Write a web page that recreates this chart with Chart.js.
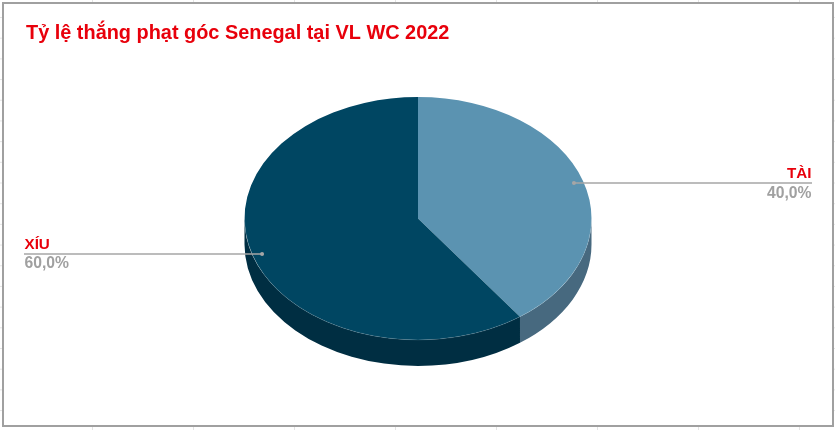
<!DOCTYPE html>
<html><head><meta charset="utf-8">
<style>
html,body{margin:0;padding:0;width:835px;height:430px;overflow:hidden;background-color:#fff;
background-image:linear-gradient(to right,#e4e4e4 1px,transparent 1px),linear-gradient(to bottom,#e4e4e4 1px,transparent 1px);
background-size:101px 100%,100% 20.7px;background-position:92px 0,0 17px;}
#frame{position:absolute;left:2px;top:2px;width:832px;height:425px;border:2px solid #a0a0a0;background:#fff;box-sizing:border-box}
canvas{position:absolute;left:0;top:0}
</style></head><body>
<div id="frame"></div>
<canvas id="c" width="835" height="430"></canvas>
<script src="https://cdn.jsdelivr.net/npm/chart.js@4/dist/chart.umd.min.js"></script>
<script>
const titleText = 'Tỷ lệ thắng phạt góc Senegal tại VL WC 2022';
const categories = ['TÀI', 'XÍU'];
const values = [40, 60];
const valueLabels = ['40,0%', '60,0%'];
const topColors = ['#5B93B1', '#004662'];
const sideColors = ['#47697F', '#002E42'];

const squash = 0.7, depth = 26, targetY = 218.5;

const pie3d = {
  id: 'pie3d',
  beforeDatasetDraw(chart) {
    const ctx = chart.ctx, arcs = chart.getDatasetMeta(0).data;
    const a0 = arcs[0];
    ctx.save();
    ctx.translate(a0.x, targetY);
    ctx.scale(1, squash);
    ctx.translate(-a0.x, -a0.y);
    arcs.forEach((arc, i) => {
      const s = Math.max(arc.startAngle, 0), e = Math.min(arc.endAngle, Math.PI);
      if (e <= s) return;
      const r = arc.outerRadius, d = depth / squash;
      ctx.beginPath();
      ctx.arc(arc.x, arc.y, r, s, e);
      ctx.arc(arc.x, arc.y + d, r, e, s, true);
      ctx.closePath();
      ctx.fillStyle = sideColors[i];
      ctx.fill();
    });
  },
  afterDatasetDraw(chart) {
    const ctx = chart.ctx, arcs = chart.getDatasetMeta(0).data;
    ctx.beginPath();
    ctx.arc(arcs[0].x, arcs[0].y, arcs[0].outerRadius, 0, Math.PI);
    ctx.strokeStyle = 'rgba(255,255,255,0.18)';
    ctx.lineWidth = 0.7;
    ctx.stroke();
    ctx.restore();
  },
  afterDatasetsDraw(chart) {
    const ctx = chart.ctx, arcs = chart.getDatasetMeta(0).data;
    arcs.forEach((arc, i) => {
      const mid = (arc.startAngle + arc.endAngle) / 2, r = arc.outerRadius * 0.945;
      const ax = arc.x + Math.cos(mid) * r;
      const ay = targetY + Math.sin(mid) * r * squash;
      const right = Math.cos(mid) > 0;
      const endX = right ? 812 : 24;
      ctx.save();
      ctx.strokeStyle = '#A6A6A6';
      ctx.lineWidth = 1.5;
      ctx.beginPath(); ctx.moveTo(ax, ay); ctx.lineTo(endX, ay); ctx.stroke();
      ctx.fillStyle = '#A6A6A6';
      ctx.beginPath(); ctx.arc(ax, ay, 2, 0, Math.PI * 2); ctx.fill();
      ctx.textAlign = right ? 'right' : 'left';
      ctx.textBaseline = 'alphabetic';
      const tx = right ? 811.5 : 24.5;
      ctx.fillStyle = '#E8000B';
      ctx.font = 'bold 15.2px "Liberation Sans"';
      ctx.fillText(categories[i], tx, ay - 5);
      ctx.fillStyle = '#A0A0A0';
      ctx.font = 'bold 15.7px "Liberation Sans"';
      ctx.fillText(valueLabels[i], tx, ay + 14.5);
      ctx.restore();
    });
  }
};

new Chart(document.getElementById('c'), {
  type: 'pie',
  data: { labels: categories, datasets: [{ data: values, backgroundColor: topColors, borderWidth: 0, clip: false }] },
  plugins: [pie3d],
  options: {
    responsive: false,
    animation: false,
    radius: 173.5,
    layout: { padding: { left: 26, right: 25, top: 22, bottom: 10 } },
    plugins: {
      legend: { display: false },
      tooltip: { enabled: false },
      title: {
        display: true, text: titleText, align: 'start', color: '#E8000B',
        font: { family: '"Liberation Sans"', size: 19.9, weight: 'bold' },
        padding: { top: 0, bottom: 10 }
      }
    }
  }
});
</script>
</body></html>
